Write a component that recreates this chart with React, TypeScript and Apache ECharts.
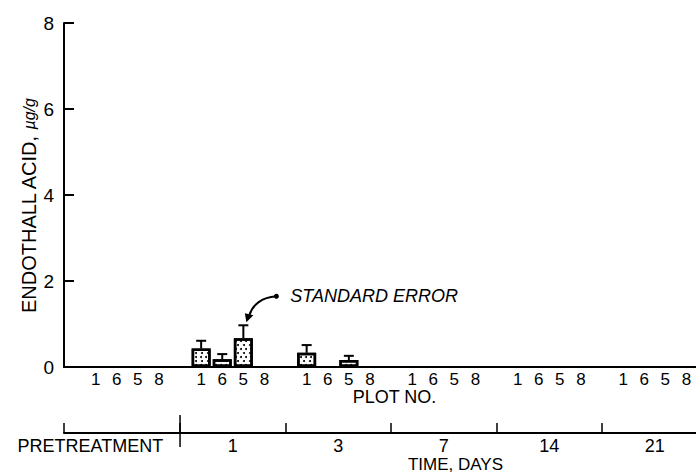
import React, { useEffect, useRef } from 'react';
import * as echarts from 'echarts';

// ---- data ----
const plotNumbers = ['1', '6', '5', '8'];
const timeLabels = ['PRETREATMENT', '1', '3', '7', '14', '21'];
const yTickValues = [0, 2, 4, 6, 8];

// mean endothall acid (µg/g) per plot (1, 6, 5, 8) for each sampling time
const meanPretreatment = [0, 0, 0, 0];
const meanDay1 = [0.43, 0.18, 0.67, 0];
const meanDay3 = [0.33, 0, 0.16, 0];
const meanDay7 = [0, 0, 0, 0];
const meanDay14 = [0, 0, 0, 0];
const meanDay21 = [0, 0, 0, 0];

// top of the standard-error bar (null = none drawn)
const errTopPretreatment = [null, null, null, null];
const errTopDay1 = [0.61, 0.3, 0.97, null];
const errTopDay3 = [0.51, null, 0.26, null];
const errTopDay7 = [null, null, null, null];
const errTopDay14 = [null, null, null, null];
const errTopDay21 = [null, null, null, null];

const annotationText = 'STANDARD ERROR';

const FONT = '"Liberation Sans", Arial, Helvetica, sans-serif';

export default function App() {
  const ref = useRef<HTMLDivElement>(null);

  useEffect(() => {
    if (!ref.current) return;
    const chart = echarts.init(ref.current, undefined, { renderer: 'svg' });

    const means = [meanPretreatment, meanDay1, meanDay3, meanDay7, meanDay14, meanDay21];
    const errTops = [errTopPretreatment, errTopDay1, errTopDay3, errTopDay7, errTopDay14, errTopDay21];

    const slotLabels: string[] = [];
    const barData: any[] = [];
    const errData: any[] = [];
    let annot: number[] | null = null;
    means.forEach((group, g) => {
      slotLabels.push('');
      barData.push('-');
      group.forEach((v, p) => {
        const idx = slotLabels.length;
        slotLabels.push(plotNumbers[p]);
        // a zero mean draws no bar in the reference
        barData.push(v > 0 ? v : '-');
        const e = errTops[g][p];
        if (e != null) {
          errData.push([idx, v, e]);
          if (!annot || e > annot[1]) annot = [idx, e];
        }
      });
    });

    const groupSize = plotNumbers.length + 1;
    const tickPositions = [0, ...timeLabels.slice(1).map((_, i) => (i + 1) * groupSize + 0.5)];
    const labelPositions = timeLabels.map((_, i) => (i === 0 ? 1.25 : i * groupSize + 3));

    const lineStyle = { color: '#000', width: 2 };
    const labelStyle = { color: '#000', fontSize: 18, fontFamily: FONT };

    chart.setOption({
      animation: false,
      backgroundColor: '#fff',
      grid: { left: 64, top: 23, width: 633, height: 344, containLabel: false, outerBoundsMode: 'none' },
      xAxis: [
        {
          type: 'category',
          data: slotLabels,
          gridIndex: 0,
          position: 'bottom',
          axisLine: { lineStyle },
          axisTick: { inside: true, length: 4, interval: 0, lineStyle: { color: '#000', width: 1.5 } },
          axisLabel: { ...labelStyle, fontSize: 17, lineHeight: 16, interval: 0, margin: 4 },
          splitLine: { show: false },
          name: 'PLOT NO.',
          nameLocation: 'middle',
          nameGap: 22,
          nameMoveOverlap: false,
          nameTextStyle: { ...labelStyle, lineHeight: 16, verticalAlign: 'top', padding: [0, 0, 0, 28] },
        },
        {
          type: 'value',
          gridIndex: 0,
          position: 'bottom',
          offset: 66,
          min: 0,
          max: slotLabels.length,
          axisLine: { lineStyle },
          axisTick: { inside: true, length: 10, customValues: tickPositions, lineStyle: { color: '#000', width: 1.5 } },
          axisLabel: {
            ...labelStyle,
            lineHeight: 15,
            margin: 5,
            customValues: labelPositions,
            formatter: (v: number) => {
              const i = labelPositions.findIndex((p) => Math.abs(p - v) < 1e-6);
              return i >= 0 ? timeLabels[i] : '';
            },
          },
          splitLine: { show: false },
          name: 'TIME, DAYS',
          nameLocation: 'middle',
          nameGap: 24,
          nameMoveOverlap: false,
          nameTextStyle: { ...labelStyle, fontSize: 17, lineHeight: 15, verticalAlign: 'top', padding: [0, 0, 0, 150] },
        },
      ],
      yAxis: {
        type: 'value',
        min: 0,
        max: yTickValues[yTickValues.length - 1],
        interval: yTickValues[1] - yTickValues[0],
        axisLine: { show: true, lineStyle },
        axisTick: { show: true, inside: true, length: 10, lineStyle: { color: '#000', width: 2 } },
        axisLabel: { ...labelStyle, fontSize: 19, margin: 10 },
        splitLine: { show: false },
        name: '{a|ENDOTHALL ACID, }{b|µg/g}',
        nameLocation: 'middle',
        nameGap: 25,
        nameRotate: 90,
        nameMoveOverlap: false,
        nameTextStyle: {
          padding: [0, 22, 0, 0],
          rich: {
            a: { color: '#000', fontFamily: FONT, fontSize: 20 },
            b: { color: '#000', fontSize: 16, fontStyle: 'italic', fontFamily: FONT },
          },
        },
      },
      series: [
        {
          type: 'bar',
          xAxisIndex: 0,
          yAxisIndex: 0,
          data: barData,
          barWidth: 19,
          itemStyle: {
            color: '#fff',
            borderColor: '#000',
            borderWidth: 2.5,
            decal: {
              symbol: 'circle',
              symbolSize: 1,
              color: '#000',
              backgroundColor: '#fff',
              dashArrayX: [[2, 2.5], [0, 2.2, 2, 0.3]],
              dashArrayY: [2, 1.5],
              rotation: 0,
            },
          },
        },
        {
          type: 'custom',
          xAxisIndex: 0,
          yAxisIndex: 0,
          data: errData,
          encode: { x: 0, y: [1, 2] },
          z: 5,
          renderItem: (params: any, api: any) => {
            const x = api.value(0);
            const p0 = api.coord([x, api.value(1)]);
            const p1 = api.coord([x, api.value(2)]);
            const half = 5;
            const st = { stroke: '#000', lineWidth: 2 };
            return {
              type: 'group',
              children: [
                { type: 'line', shape: { x1: p0[0], y1: p0[1], x2: p1[0], y2: p1[1] }, style: st },
                { type: 'line', shape: { x1: p1[0] - half, y1: p1[1], x2: p1[0] + half, y2: p1[1] }, style: st },
              ],
            };
          },
        },
      ],
    });

    // annotation anchored to the tallest error bar, the long time-axis tick, and y ticks
    const graphics: any[] = [];
    if (annot) {
      const [tx, ty] = chart.convertToPixel({ gridIndex: 0 }, annot) as number[];
      graphics.push(
        {
          type: 'text',
          x: tx + 47,
          y: ty - 29,
          style: { text: annotationText, fill: '#000', fontSize: 18, fontStyle: 'italic', fontFamily: FONT, verticalAlign: 'middle' },
        },
        { type: 'circle', shape: { cx: tx + 33, cy: ty - 29, r: 2.5 }, style: { fill: '#000' } },
        {
          type: 'bezierCurve',
          shape: { x1: tx + 33, y1: ty - 29, cpx1: tx + 18, cpy1: ty - 28, cpx2: tx + 9, cpy2: ty - 20, x2: tx + 6, y2: ty - 10 },
          style: { stroke: '#000', lineWidth: 2, fill: 'none' },
        },
        {
          type: 'polygon',
          shape: { points: [[tx + 3, ty - 3], [tx + 1.5, ty - 12], [tx + 10, ty - 10]] },
          style: { fill: '#000' },
        }
      );
    }
    const axisX = chart.convertToPixel({ xAxisIndex: 1 }, 0) as number;
    yTickValues.forEach((v) => {
      const py = chart.convertToPixel({ yAxisIndex: 0 }, v) as number;
      graphics.push({
        type: 'line',
        shape: { x1: axisX, y1: py, x2: axisX + 10, y2: py },
        style: { stroke: '#000', lineWidth: 2 },
      });
    });
    const zeroY = (chart.convertToPixel({ yAxisIndex: 0 }, 0) as number) + 66;
    const longX = chart.convertToPixel({ xAxisIndex: 1 }, tickPositions[1]) as number;
    graphics.push({
      type: 'line',
      shape: { x1: longX, y1: zeroY - 18, x2: longX, y2: zeroY + 14 },
      style: { stroke: '#000', lineWidth: 1.5 },
    });
    chart.setOption({ graphic: graphics });

    return () => chart.dispose();
  }, []);

  return <div ref={ref} style={{ position: 'absolute', left: 0, top: 0, width: 696, height: 473 }} />;
}
